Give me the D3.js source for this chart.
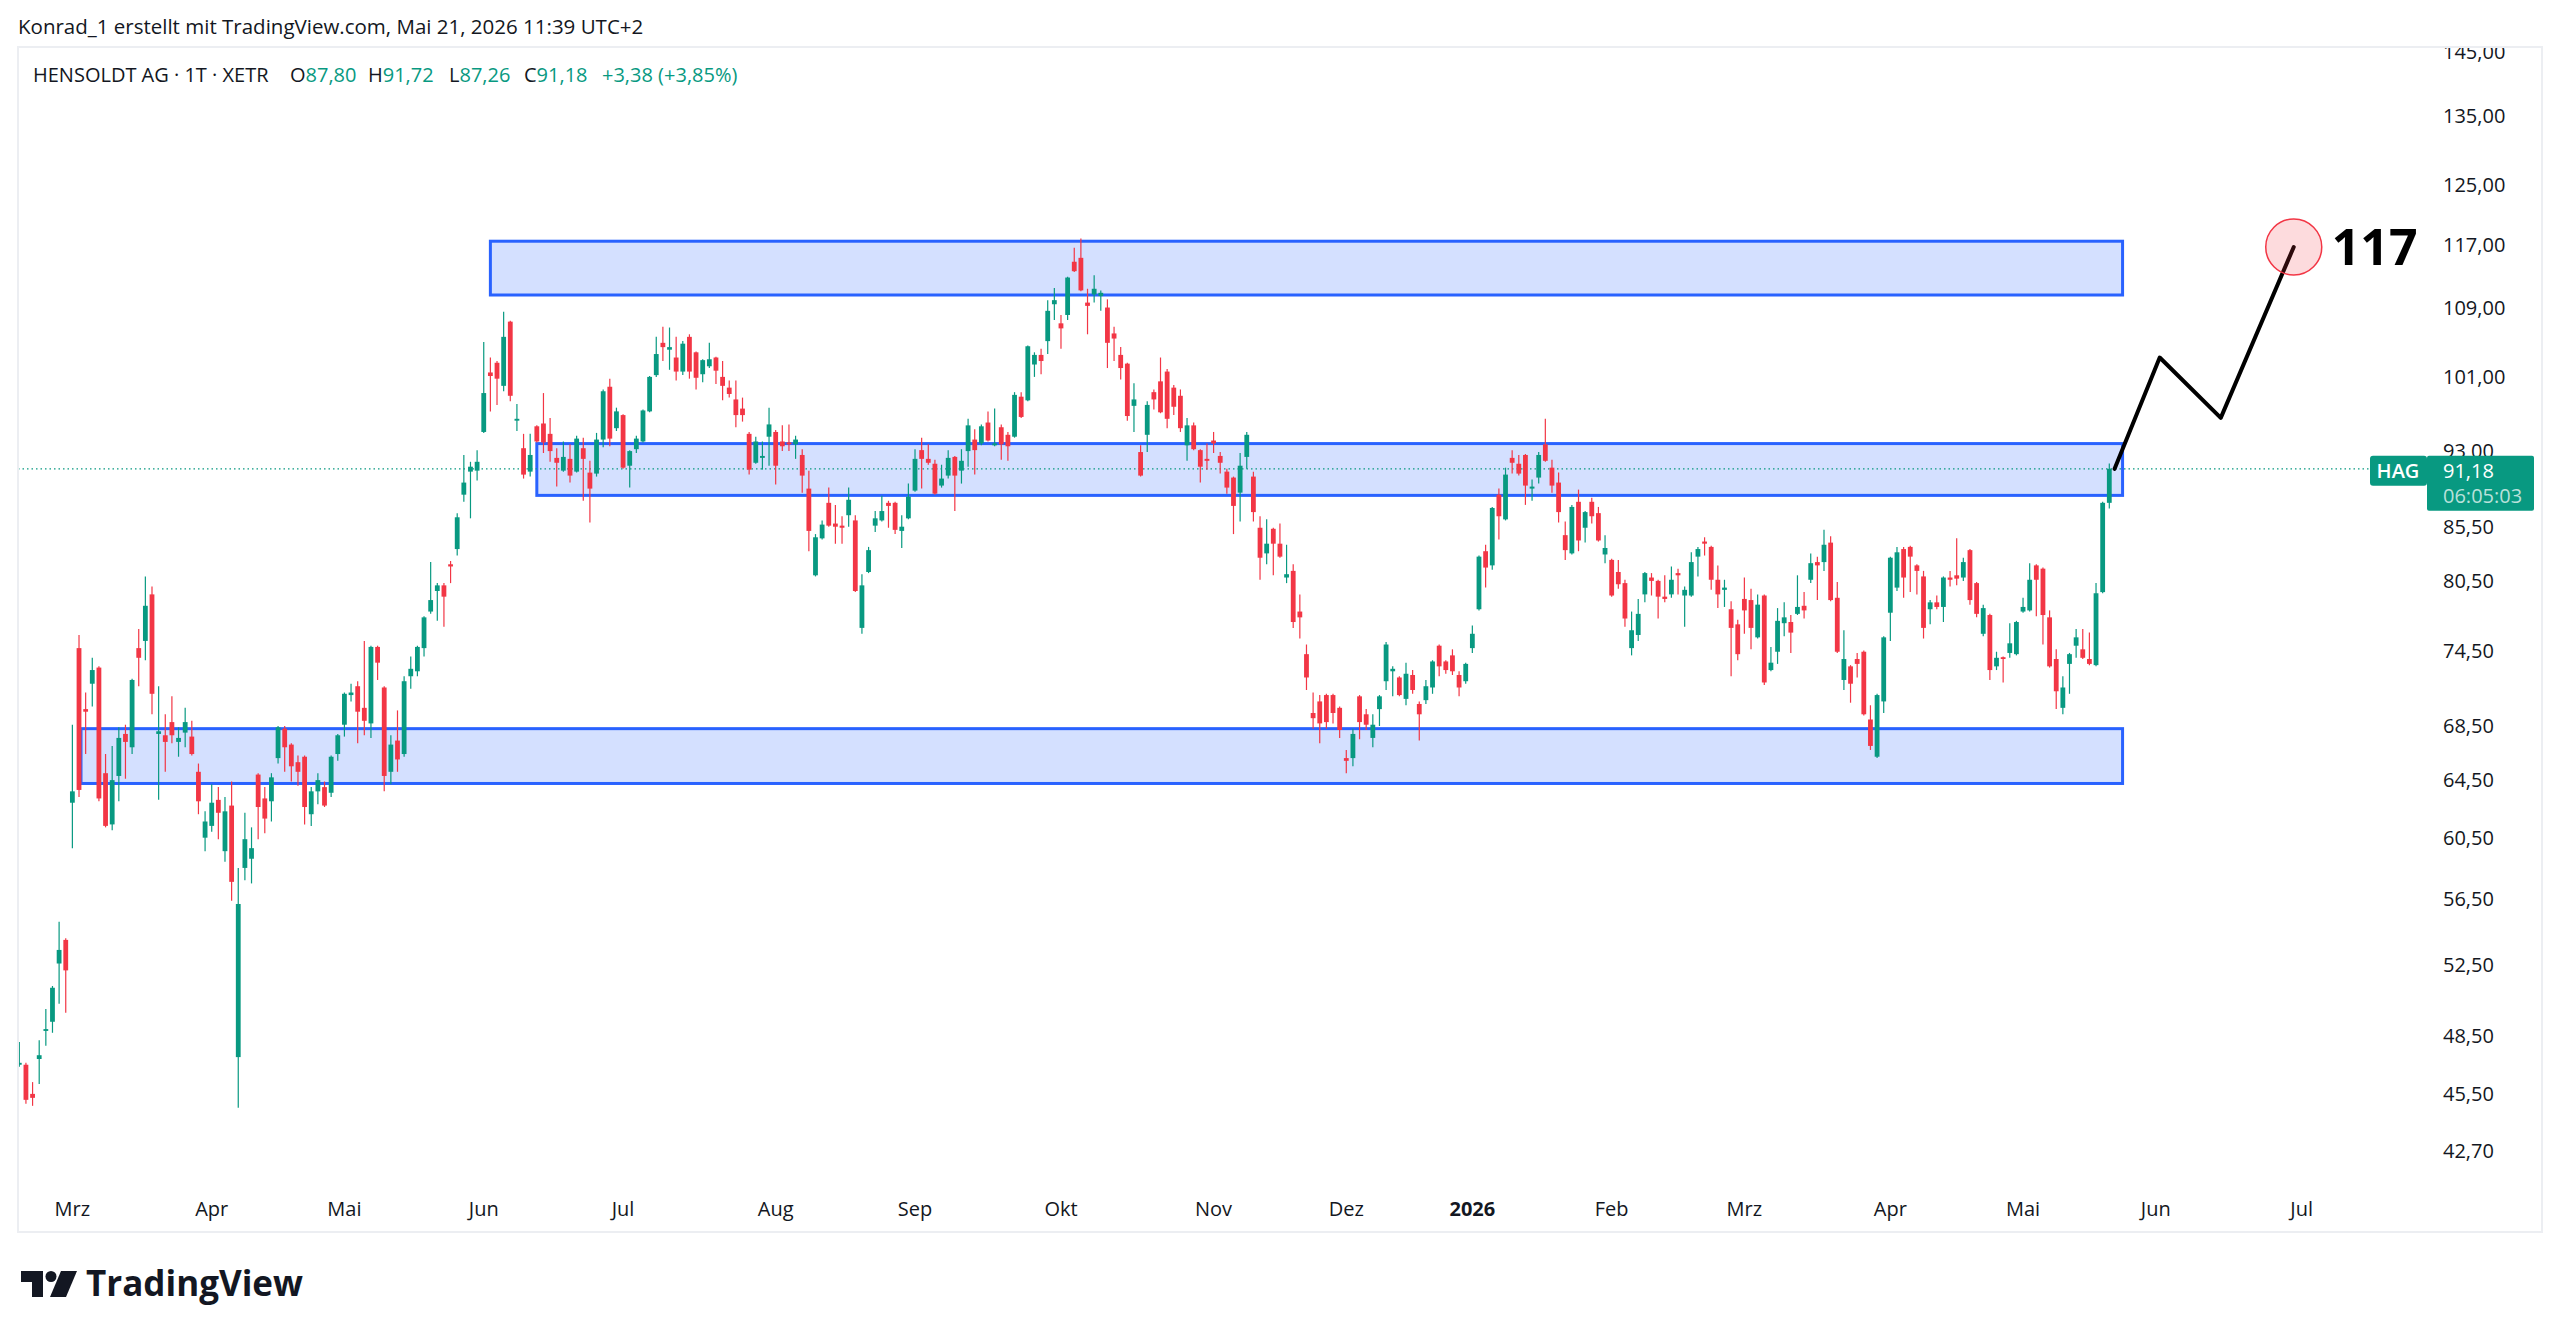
<!DOCTYPE html>
<html lang="de">
<head>
<meta charset="utf-8">
<title>HENSOLDT AG · 1T · XETR</title>
<script src="https://cdn.jsdelivr.net/npm/d3@7"></script>
<style>
  html, body { margin: 0; padding: 0; background: #fff; }
  svg { display: block; font-family: "Open Sans", sans-serif; }
</style>
</head>
<body>
<svg id="chart" width="2560" height="1339"></svg>
<script>
// daily candles [open, high, low, close], 19 Feb 2025 .. 21 May 2026
const candles = [
  [47.0,48.2,46.9,47.1],[47.0,47.1,45.0,45.2],[45.5,46.1,44.9,45.3],[47.3,48.3,46.0,47.5],[48.8,50.0,48.0,48.9],
  [49.3,51.3,48.7,51.2],[52.6,55.1,50.3,53.4],[54.0,54.1,49.8,52.2],[62.9,68.6,59.8,63.7],[74.7,75.8,63.3,63.8],
  [69.8,71.1,66.4,69.6],[71.8,73.9,70.0,72.9],[73.1,73.2,63.0,63.2],[65.0,66.4,61.2,61.3],[61.4,67.0,61.0,64.5],
  [64.8,68.4,63.0,67.6],[67.9,68.6,64.6,67.3],[66.9,72.2,66.4,72.1],[74.7,76.3,71.6,73.9],[75.3,80.9,73.7,78.3],
  [79.3,80.0,69.4,71.0],[67.9,71.6,63.1,68.1],[67.8,69.4,65.1,67.3],[68.8,70.8,67.2,67.8],[67.3,68.4,66.2,67.6],
  [68.0,69.9,66.9,68.8],[67.7,68.9,66.3,66.4],[65.1,65.7,62.1,63.0],[60.5,62.3,59.6,61.6],[61.3,64.2,60.9,62.9],
  [63.1,64.0,60.4,62.2],[59.6,63.3,58.9,62.3],[62.7,64.4,56.4,57.6],[47.4,58.5,44.8,56.2],[58.5,62.2,57.7,60.4],
  [59.1,61.2,57.5,59.8],[64.9,65.0,60.4,62.6],[63.2,64.0,60.8,61.8],[63.0,65.0,61.6,64.7],[66.1,68.5,65.7,68.4],
  [68.3,68.5,65.1,66.9],[67.1,67.2,64.4,65.5],[65.8,66.3,64.1,65.1],[66.2,66.3,61.4,62.6],[62.1,64.0,61.3,63.7],
  [63.7,65.0,62.8,64.5],[64.0,64.4,62.6,62.7],[63.6,66.3,63.3,66.2],[66.4,67.9,65.9,67.8],[68.6,71.1,67.7,71.0],
  [70.9,71.8,70.4,71.1],[71.6,72.0,67.2,69.6],[69.9,75.3,67.8,68.9],[68.7,74.9,67.6,74.8],[74.8,74.9,72.1,73.5],
  [71.5,71.6,63.7,64.8],[65.1,67.8,64.2,67.1],[67.4,69.7,65.1,66.0],[66.4,72.4,66.2,72.0],[72.4,74.0,71.4,73.0],
  [72.8,74.9,72.4,74.8],[74.7,77.4,74.0,77.3],[77.8,82.2,77.6,78.8],[79.6,80.3,77.0,80.1],[80.1,80.3,76.5,79.1],
  [82.0,82.3,80.3,81.8],[83.4,86.8,82.8,86.4],[88.6,92.6,87.9,89.8],[90.9,91.9,86.3,91.4],[91.0,93.1,90.0,91.9],
  [95.0,105.0,94.9,99.2],[101.5,103.2,97.2,101.1],[102.6,102.8,97.9,100.8],[100.0,108.6,99.4,105.6],[107.4,107.5,98.3,98.9],
  [96.2,98.0,95.1,96.4],[93.3,94.8,90.2,90.6],[90.9,94.8,90.4,92.6],[95.6,95.7,93.9,94.0],[95.9,99.2,92.8,93.9],
  [94.8,96.5,91.9,93.0],[92.3,93.3,89.4,91.8],[91.0,94.0,90.9,92.4],[92.2,93.7,89.8,90.5],[90.9,94.6,90.8,94.3],
  [93.3,94.4,88.0,92.2],[90.8,92.0,85.9,89.2],[90.7,94.9,90.4,94.2],[94.2,99.6,93.4,99.4],[99.9,100.8,93.5,94.3],
  [95.4,97.6,95.1,97.2],[96.8,96.9,91.2,91.3],[91.5,93.1,89.3,93.0],[93.2,94.6,92.8,94.3],[94.0,97.4,93.9,97.3],
  [97.2,101.1,97.1,101.0],[101.2,105.6,101.0,103.6],[104.9,106.8,102.8,104.4],[104.1,106.7,101.8,104.4],[103.2,105.6,100.6,101.6],
  [101.6,105.1,101.2,104.8],[105.6,105.9,100.8,101.6],[103.8,103.9,99.6,100.9],[101.3,103.0,100.4,102.9],[102.2,104.9,102.0,103.0],
  [103.2,103.3,100.2,101.7],[101.0,102.8,98.4,100.0],[99.8,100.6,98.7,99.1],[98.5,100.6,95.5,96.8],[97.5,98.7,96.1,96.8],
  [94.8,95.0,90.6,91.1],[91.8,94.5,91.7,94.0],[92.3,94.0,91.1,92.5],[94.5,97.6,91.5,95.8],[95.0,95.2,89.6,91.5],
  [94.0,95.7,93.0,93.5],[93.9,95.8,93.0,93.7],[93.7,94.6,92.2,94.2],[92.6,93.2,88.8,90.5],[89.2,91.0,83.2,85.1],
  [81.0,84.8,80.9,84.5],[84.4,86.1,84.3,85.7],[87.8,89.3,85.5,85.6],[85.8,87.6,83.9,85.5],[85.6,86.5,83.9,85.4],
  [86.6,89.3,85.5,88.1],[86.1,86.6,79.5,79.6],[76.4,81.1,75.9,80.1],[81.3,83.6,81.2,83.3],[85.6,87.0,85.0,86.3],
  [86.1,88.5,86.0,87.0],[87.8,88.0,85.4,87.5],[87.8,87.9,84.8,85.2],[85.1,86.6,83.5,85.5],[86.3,89.7,86.2,88.4],
  [89.0,93.2,88.9,92.2],[93.1,94.4,89.2,92.2],[92.2,93.7,91.6,91.8],[91.7,92.1,88.6,88.7],[89.5,91.6,89.3,90.2],
  [90.5,93.1,90.2,92.3],[92.4,92.5,87.0,90.5],[91.0,93.2,89.7,92.0],[93.0,96.4,91.4,95.7],[94.2,95.3,90.6,93.1],
  [93.8,95.8,93.6,95.6],[96.0,97.2,94.0,94.1],[93.6,97.5,93.5,93.8],[95.5,95.8,92.1,93.7],[94.7,95.0,92.0,93.5],
  [94.5,99.3,94.4,99.0],[98.8,99.3,96.5,96.6],[98.4,104.6,98.3,104.5],[102.4,103.8,101.0,103.5],[103.5,104.2,101.3,102.8],
  [105.1,110.0,103.6,108.7],[109.5,111.5,107.6,110.0],[107.2,108.2,104.2,106.6],[108.2,112.9,107.6,112.8],[114.8,116.6,113.5,113.6],
  [115.3,117.8,111.1,111.2],[109.7,111.4,105.9,109.3],[110.7,113.1,109.7,111.4],[110.5,111.2,108.7,110.9],[109.1,110.1,102.0,104.9],
  [106.0,106.8,102.8,105.4],[103.5,104.4,100.7,102.0],[102.5,102.6,96.2,96.7],[97.8,100.3,95.0,98.5],[92.9,93.6,90.4,90.5],
  [94.7,98.3,92.9,97.9],[99.3,99.6,97.4,98.5],[100.5,103.2,97.0,97.1],[101.6,101.9,95.4,96.4],[99.8,100.1,96.8,97.7],
  [98.9,99.6,95.0,95.4],[93.6,96.5,92.0,95.7],[95.7,96.0,93.1,93.2],[93.1,93.2,89.8,91.4],[92.2,93.8,91.1,92.0],
  [94.1,95.0,92.8,93.8],[92.5,92.9,90.7,91.8],[90.9,91.2,88.7,89.3],[90.3,90.4,84.8,87.5],[88.8,92.8,86.0,91.5],
  [92.4,95.0,91.2,94.7],[90.4,90.9,86.0,86.9],[85.4,86.5,80.6,82.6],[83.0,86.2,82.0,83.9],[85.3,85.4,81.0,83.9],
  [83.9,85.8,82.6,82.7],[80.8,83.8,80.3,81.1],[81.4,82.0,76.4,76.9],[77.8,79.3,75.5,77.3],[74.2,75.0,71.3,72.3],
  [69.5,71.1,68.3,69.1],[70.4,70.9,67.2,68.7],[70.9,71.0,68.3,68.8],[70.9,71.0,68.7,69.5],[69.9,70.0,67.6,68.2],
  [66.1,66.7,65.0,65.9],[66.1,68.3,65.5,67.9],[70.8,70.9,67.5,68.8],[69.4,69.8,68.2,68.6],[67.6,69.4,66.9,68.6],
  [69.8,70.9,68.5,70.8],[72.0,75.2,71.3,75.0],[72.8,73.2,70.8,73.0],[72.3,72.4,70.8,70.9],[70.6,73.5,70.1,72.6],
  [72.5,72.9,71.0,71.3],[70.2,70.4,67.4,69.4],[70.5,72.1,70.2,71.6],[71.5,73.7,71.0,73.6],[74.9,75.0,72.4,73.2],
  [73.6,73.7,72.6,72.9],[74.1,74.6,72.5,72.8],[72.5,72.8,70.8,71.5],[72.0,73.5,71.8,73.4],[74.7,76.6,74.3,75.9],
  [78.0,82.8,77.9,82.7],[83.2,83.8,79.9,81.7],[81.9,87.4,81.5,87.3],[88.6,89.2,84.3,86.5],[86.2,91.3,86.1,90.6],
  [92.3,93.1,90.7,91.8],[91.7,92.6,90.5,90.7],[92.6,92.7,87.6,89.5],[89.2,90.1,88.0,89.4],[90.3,92.9,89.7,92.6],
  [93.7,96.4,91.9,92.0],[91.3,92.1,88.8,89.5],[89.8,90.8,85.9,86.9],[84.7,86.0,82.4,83.3],[83.0,87.6,82.9,87.4],
  [87.9,89.1,83.2,84.2],[85.4,87.0,84.0,86.9],[87.9,88.3,85.8,86.5],[86.8,87.4,84.1,84.2],[82.9,84.7,82.1,83.5],
  [82.4,82.5,79.1,79.2],[81.3,82.4,79.8,80.2],[80.3,80.6,76.5,77.2],[74.7,77.8,74.1,76.2],[75.8,78.9,75.3,77.6],
  [79.3,81.3,78.6,81.2],[80.8,81.2,79.2,80.5],[80.5,80.6,77.2,79.1],[79.1,81.0,78.6,78.9],[79.3,81.8,79.0,80.6],
  [81.2,81.6,79.3,81.0],[79.2,80.0,76.5,79.7],[79.2,83.1,79.1,82.2],[82.7,83.6,80.9,83.4],[84.1,84.5,82.8,83.9],
  [83.6,83.7,79.7,80.6],[80.6,81.9,78.1,79.3],[79.7,80.6,78.2,79.9],[78.0,78.7,72.4,76.4],[76.7,77.1,73.7,74.2],
  [78.9,80.8,75.9,77.9],[78.8,79.8,74.6,76.4],[75.6,79.3,75.5,78.4],[79.2,79.3,71.7,71.9],[72.9,74.8,72.8,73.5],
  [74.4,78.1,73.4,77.0],[76.8,78.6,75.7,77.3],[76.9,77.5,74.3,76.0],[77.6,81.0,77.5,78.2],[78.3,79.5,77.2,77.9],
  [80.6,83.0,80.3,82.1],[82.2,82.7,78.8,81.9],[82.2,85.2,81.4,83.8],[84.0,84.6,78.7,78.8],[79.0,80.4,74.3,74.4],
  [72.1,76.2,71.3,73.8],[73.2,73.3,70.3,71.8],[73.8,74.3,72.3,73.4],[74.4,74.5,69.3,69.4],[69.0,70.1,66.7,67.0],
  [66.2,71.0,66.1,70.9],[70.4,75.7,69.5,75.6],[77.7,82.7,75.3,82.6],[79.9,83.6,79.6,83.1],[83.4,83.6,79.0,80.8],
  [83.6,83.7,79.5,82.7],[81.9,82.0,79.3,81.4],[80.9,81.4,75.5,76.4],[78.0,78.8,76.7,78.6],[78.6,79.2,78.0,78.2],
  [78.2,80.9,76.9,80.8],[80.8,81.4,80.0,80.6],[81.0,84.4,80.1,80.7],[80.8,82.6,80.5,82.2],[83.3,83.4,78.4,78.8],
  [80.3,80.4,77.3,77.6],[75.9,78.4,75.7,78.1],[77.5,77.6,72.1,72.9],[73.2,74.4,72.9,73.9],[73.95,74.0,71.9,73.8],
  [74.3,76.8,73.9,75.1],[74.2,77.0,74.1,76.9],[77.8,79.0,77.7,78.2],[77.9,82.1,77.8,80.6],[81.9,82.0,77.4,80.6],
  [81.6,81.7,75.0,77.5],[77.3,77.9,73.1,73.2],[73.8,74.6,69.8,71.2],[69.9,72.4,69.4,71.5],[73.4,74.3,71.0,74.2],
  [74.9,76.3,73.9,75.6],[74.6,76.3,73.8,73.9],[73.8,76.0,73.3,73.4],[73.3,80.3,73.2,79.4],[79.5,87.9,79.4,87.8],
  [87.80,91.72,87.26,91.18]
];

const priceTicks = [145, 135, 125, 117, 109, 101, 93, 85.5, 80.5, 74.5, 68.5, 64.5, 60.5, 56.5, 52.5, 48.5, 45.5, 42.7];

// bar index of the first trading day of each month
const monthTicks = [
  { i: 8, label: "Mrz" }, { i: 29, label: "Apr" }, { i: 49, label: "Mai" }, { i: 70, label: "Jun" },
  { i: 91, label: "Jul" }, { i: 114, label: "Aug" }, { i: 135, label: "Sep" }, { i: 157, label: "Okt" },
  { i: 180, label: "Nov" }, { i: 200, label: "Dez" }, { i: 219, label: "2026", bold: true }, { i: 240, label: "Feb" },
  { i: 260, label: "Mrz" }, { i: 282, label: "Apr" }, { i: 302, label: "Mai" }, { i: 322, label: "Jun" },
  { i: 344, label: "Jul" }
];

// drawn rectangles (bar index from/to, price top/bottom)
const zones = [
  { from: 71, to: 317, top: 117.45, bottom: 110.63 },
  { from: 78, to: 317, top: 93.78, bottom: 88.53 },
  { from: 9.3, to: 317, top: 68.3, bottom: 64.26 }
];

// hand drawn projection path: [bar index, price]
const projection = [[315.8, 91.18], [322.6, 103.2], [331.8, 96.5], [342.8, 116.7]];
const target = { i: 342.8, price: 116.7, label: "117" };

const legendTitle = "HENSOLDT AG · 1T · XETR";
const last = { o: "87,80", h: "91,72", l: "87,26", c: "91,18", chg: "+3,38 (+3,85%)", time: "06:05:03" };

const up = "#089981", down = "#f23645", ink = "#131722";

const svg = d3.select("#chart");
const pane = { left: 18, top: 47, right: 2542, bottom: 1232, plotBottom: 1186, axisX: 2425 };

const x = d3.scaleLinear().domain([0, candles.length - 1]).range([19.3, 2109.3]);
const y = d3.scaleLog().domain([42.7, 135]).range([1151, 116]);
const fmt = v => v.toFixed(2).replace(".", ",");

svg.append("rect").attr("width", 2560).attr("height", 1339).attr("fill", "#fff");

// header
svg.append("text").attr("x", 18).attr("y", 34)
  .attr("font-size", 20.5).attr("fill", ink)
  .text("Konrad_1 erstellt mit TradingView.com, Mai 21, 2026 11:39 UTC+2");

// pane border
svg.append("rect")
  .attr("x", pane.left).attr("y", pane.top)
  .attr("width", pane.right - pane.left).attr("height", pane.bottom - pane.top)
  .attr("fill", "none").attr("stroke", "#eceef2").attr("stroke-width", 2);

const defs = svg.append("defs");
defs.append("clipPath").attr("id", "plotClip").append("rect")
  .attr("x", pane.left + 1).attr("y", pane.top + 1)
  .attr("width", pane.axisX - pane.left).attr("height", pane.plotBottom - pane.top);
defs.append("clipPath").attr("id", "axisClip").append("rect")
  .attr("x", pane.axisX).attr("y", pane.top + 1)
  .attr("width", pane.right - pane.axisX - 1).attr("height", pane.plotBottom - pane.top);

const plot = svg.append("g").attr("clip-path", "url(#plotClip)");

// zones
plot.append("g").selectAll("rect").data(zones).join("rect")
  .attr("x", d => x(d.from)).attr("y", d => y(d.top))
  .attr("width", d => x(d.to) - x(d.from)).attr("height", d => y(d.bottom) - y(d.top))
  .attr("fill", "rgba(41, 98, 255, 0.2)")
  .attr("stroke", "#2962ff").attr("stroke-width", 3);

// last price line
const lastClose = candles[candles.length - 1][3];
plot.append("line")
  .attr("x1", pane.left).attr("x2", 2370)
  .attr("y1", y(lastClose)).attr("y2", y(lastClose))
  .attr("stroke", up).attr("stroke-width", 1.3).attr("stroke-dasharray", "1.5,3");

// candles
const bars = plot.append("g").selectAll("g").data(candles).join("g")
  .attr("fill", d => d[3] >= d[0] ? up : down)
  .attr("stroke", d => d[3] >= d[0] ? up : down);
bars.append("line")
  .attr("x1", (d, i) => x(i)).attr("x2", (d, i) => x(i))
  .attr("y1", d => y(d[1])).attr("y2", d => y(d[2]))
  .attr("stroke-width", 1.2);
bars.append("rect")
  .attr("stroke", "none")
  .attr("x", (d, i) => x(i) - 2.4).attr("width", 4.8)
  .attr("y", d => y(Math.max(d[0], d[3])))
  .attr("height", d => Math.max(1.5, Math.abs(y(d[0]) - y(d[3]))));

// projection path + target circle
plot.append("path")
  .attr("d", d3.line().x(d => x(d[0])).y(d => y(d[1]))(projection))
  .attr("fill", "none").attr("stroke", "#000").attr("stroke-width", 4)
  .attr("stroke-linejoin", "round").attr("stroke-linecap", "round");
plot.append("circle")
  .attr("cx", x(target.i)).attr("cy", y(target.price)).attr("r", 28)
  .attr("fill", "rgba(242, 54, 69, 0.18)").attr("stroke", down).attr("stroke-width", 1.5);
plot.append("text")
  .attr("x", x(target.i) + 38).attr("y", y(target.price) + 18)
  .attr("font-size", 50).attr("font-weight", 700).attr("fill", "#000")
  .text(target.label);

// legend
const legend = svg.append("g").attr("font-size", 20);
legend.append("text").attr("x", 33).attr("y", 82).attr("fill", ink).text(legendTitle);
const legendParts = [
  { key: "O", val: last.o, x: 290 }, { key: "H", val: last.h, x: 368 },
  { key: "L", val: last.l, x: 449 }, { key: "C", val: last.c, x: 524 }
];
legendParts.forEach(p => {
  const t = legend.append("text").attr("x", p.x).attr("y", 82);
  t.append("tspan").attr("fill", ink).text(p.key);
  t.append("tspan").attr("fill", up).text(p.val);
});
legend.append("text").attr("x", 602).attr("y", 82).attr("fill", up).text(last.chg);

// price axis (the tick under the last-price box stays partly hidden, as in the original)
const axis = svg.append("g").attr("clip-path", "url(#axisClip)")
  .attr("font-size", 20).attr("fill", "#131722");
axis.selectAll("text").data(priceTicks).join("text")
  .attr("x", 2443).attr("y", d => y(d)).attr("dy", "0.35em")
  .text(d => fmt(d));

// last price labels
const ly = y(lastClose);
svg.append("rect").attr("x", 2370).attr("y", ly - 13).attr("width", 57).attr("height", 30)
  .attr("rx", 3).attr("fill", up);
svg.append("text").attr("x", 2398).attr("y", ly + 9).attr("text-anchor", "middle")
  .attr("font-size", 20).attr("font-weight", 600).attr("fill", "#fff").text("HAG");
svg.append("rect").attr("x", 2427).attr("y", ly - 13).attr("width", 107).attr("height", 55)
  .attr("rx", 2).attr("fill", up);
svg.append("text").attr("x", 2443).attr("y", ly + 9)
  .attr("font-size", 20).attr("fill", "#fff").text(fmt(lastClose));
svg.append("text").attr("x", 2443).attr("y", ly + 34)
  .attr("font-size", 20).attr("fill", "rgba(255,255,255,0.72)").text(last.time);

// time axis
svg.append("g").attr("font-size", 20).attr("fill", ink)
  .selectAll("text").data(monthTicks).join("text")
  .attr("x", d => x(d.i)).attr("y", 1216).attr("text-anchor", "middle")
  .attr("font-weight", d => d.bold ? 700 : 400)
  .text(d => d.label);

// TradingView logo
const logo = svg.append("g").attr("fill", ink);
logo.append("path").attr("d", "M21,1271 H43 V1297 H32 V1282 H21 Z");
logo.append("circle").attr("cx", 51).attr("cy", 1276.5).attr("r", 5.5);
logo.append("path").attr("d", "M61,1271 H77 L66,1297 H50 Z");
logo.append("text").attr("x", 86).attr("y", 1296)
  .attr("font-size", 35).attr("font-weight", 700)
  .text("TradingView");
</script>
</body>
</html>
